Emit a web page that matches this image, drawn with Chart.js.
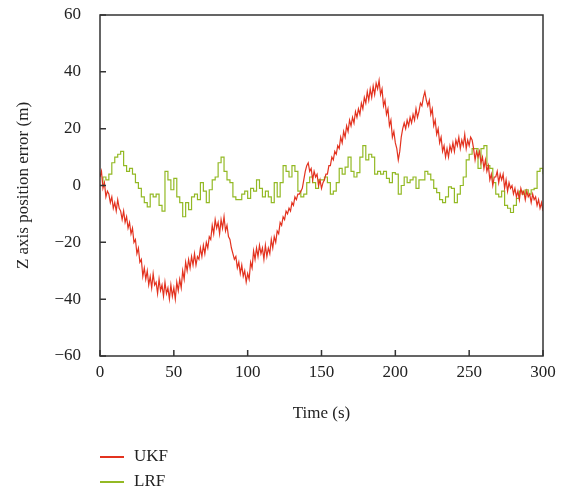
<!DOCTYPE html>
<html>
<head>
<meta charset="utf-8">
<script src="https://cdn.jsdelivr.net/npm/chart.js@4/dist/chart.umd.min.js"></script>
<style>
  body { margin: 0; background: #fff; }
  #wrap { position: relative; width: 569px; height: 492px; }
  .leg { position: absolute; left: 100px; font: 17px "Liberation Serif", serif; color: #222; line-height: 20px; }
  .leg span { display: inline-block; width: 24px; height: 1.5px; vertical-align: middle; margin-right: 10px; }
</style>
</head>
<body>
<div id="wrap">
  <canvas id="zCanvas" width="569" height="492"></canvas>
  <div class="leg" style="top:446px"><span style="background:#e3321f"></span>UKF</div>
  <div class="leg" style="top:471px"><span style="background:#93b924"></span>LRF</div>
</div>
<script>
// Z position error (m), UKF, one sample per second from 0 to 300 s
const ukf = [
  3, 5, -1, 1, -4, -2, -3, -6, -4, -8,
  -6, -9, -5, -8, -9, -12, -9, -13, -11, -15,
  -13, -17, -15, -20, -19, -24, -22, -27, -26, -32,
  -29, -33, -30, -35, -32, -36, -31, -35, -34, -38,
  -33, -37, -35, -39, -34, -38, -36, -40, -35, -39,
  -36, -40, -34, -37, -33, -36, -30, -33, -27, -30,
  -26, -29, -25, -28, -24, -28, -25, -26, -22, -25,
  -21, -24, -20, -22, -18, -19, -14, -17, -12, -15,
  -13, -17, -12, -15, -11, -16, -14, -18, -19, -22,
  -24, -26, -25, -29, -27, -31, -28, -32, -30, -34,
  -31, -33, -27, -29, -23, -26, -22, -25, -21, -24,
  -22, -26, -21, -25, -22, -24, -19, -22, -18, -20,
  -16, -17, -13, -14, -11, -12, -9, -10, -8, -9,
  -6, -7, -4, -5, -3, -3, -2, -1, 2, 5,
  7, 8, 5, 6, 2, 5, 3, 4, 0, 2,
  -1, 1, 2, 4, 4, 7, 7, 10, 9, 12,
  11, 14, 13, 17, 15, 19, 17, 21, 19, 23,
  21, 24, 22, 26, 24, 27, 25, 29, 27, 31,
  29, 33, 30, 34, 31, 35, 32, 36, 34, 37,
  32, 34, 28, 30, 25, 27, 21, 23, 17, 19,
  15, 13, 9, 12, 17, 20, 22, 20, 23, 21,
  24, 22, 25, 23, 27, 24, 26, 29, 28, 31,
  33, 30, 28, 30, 25, 27, 21, 23, 18, 20,
  15, 17, 12, 14, 10, 13, 10, 14, 12, 15,
  12, 16, 14, 17, 13, 16, 14, 18, 13, 16,
  14, 17, 16, 13, 9, 12, 10, 12, 8, 10,
  6, 9, 5, 7, 2, 4, 0, 3, 3, 5,
  1, 4, 2, 4, -1, 2, -2, 1, -1, 0,
  -3, -1, -4, -2, -5, -1, -3, -2, -5, -2,
  -4, -3, -6, -3, -5, -4, -7, -5, -8, -6,
  -9
];

// Z position error (m), LRF, one sample every 2 s from 0 to 300 s
const lrf = [
  0, 3, 2, 4, 8, 10, 11, 12, 7, 5,
  6, 4, 1, -1, -4, -6, -7.5, -3, -4, -3,
  -7, -9, 5, 2, -1.5, 2.5, -4, -6, -11, -6,
  -8.5, -4, -3, -5, 1, -2, -6, -1.5, 2, 3,
  8, 10, 5, 2, 1, -4, -5, -5, -3, -2,
  -4.5, -1, -2, 2, -1, -4, -2, -4, -6, 1,
  -4, 1, 7, 5, 3, 7, 5, -2, -4, -3,
  1, 3, 1, -1, 2, 2, 3, 1, -3, -2,
  1, 6, 4, 6.5, 10, 5, 3, 4.5, 10, 14,
  9, 11, 10, 4, 5, 4, 5, 2.5, 1, 4.5,
  4, -3, 0, 3, 1, 2, 3, -1, 2, 2,
  5, 4, 2, -1, -2.5, -5, -6, -4, -0.5, -1,
  -6, -3, 0, 3, 9, 11, 13, 13, 6, 13,
  14, 7, 6, 1, -3, -4, -2, -7, -8, -9.5,
  -7, -4.5, -2, -3, -1.5, -3, -1.5, -1, 5, 6,
  4
];

const ukfStep = 1;
const lrfStep = 2;

const xTicks = [0, 50, 100, 150, 200, 250, 300];
const yTicks = [-60, -40, -20, 0, 20, 40, 60];

const serif = '"Liberation Serif", serif';
const ink = '#222';

// box around the plot with inward tick marks
const framePlugin = {
  id: 'frame',
  afterDraw(chart) {
    const { ctx, chartArea: a, scales } = chart;
    ctx.save();
    ctx.strokeStyle = '#333';
    ctx.lineWidth = 1.5;
    ctx.strokeRect(a.left, a.top, a.right - a.left, a.bottom - a.top);
    ctx.beginPath();
    xTicks.forEach(v => {
      const x = scales.x.getPixelForValue(v);
      ctx.moveTo(x, a.bottom);
      ctx.lineTo(x, a.bottom - 6);
    });
    yTicks.forEach(v => {
      const y = scales.y.getPixelForValue(v);
      ctx.moveTo(a.left, y);
      ctx.lineTo(a.left + 6, y);
    });
    ctx.stroke();
    ctx.restore();
  }
};

new Chart(document.getElementById('zCanvas'), {
  type: 'line',
  data: {
    datasets: [{
      label: 'UKF',
      data: ukf.map((v, i) => ({ x: i * ukfStep, y: v })),
      borderColor: '#e3321f',
      borderWidth: 1.2,
      pointRadius: 0,
      tension: 0
    }, {
      label: 'LRF',
      data: lrf.map((v, i) => ({ x: i * lrfStep, y: v })),
      borderColor: '#93b924',
      borderWidth: 1.2,
      pointRadius: 0,
      stepped: true
    }]
  },
  options: {
    responsive: false,
    animation: false,
    layout: { padding: { top: 15, right: 26, bottom: 64, left: 9 } },
    plugins: { legend: { display: false }, tooltip: { enabled: false } },
    scales: {
      x: {
        type: 'linear',
        min: 0, max: 300,
        afterBuildTicks: s => { s.ticks = xTicks.map(v => ({ value: v })); },
        afterFit: s => { s.height = 72; s.paddingRight = 0; s.paddingLeft = 0; },
        grid: { display: false },
        border: { display: false },
        ticks: { color: ink, font: { family: serif, size: 17 }, padding: -2, maxRotation: 0 },
        title: { display: true, text: 'Time (s)', color: ink, font: { family: serif, size: 17 } }
      },
      y: {
        min: -60, max: 60,
        afterBuildTicks: s => { s.ticks = yTicks.map(v => ({ value: v })); },
        afterFit: s => { s.width = 91; s.paddingTop = 0; s.paddingBottom = 0; },
        grid: { display: false },
        border: { display: false },
        ticks: {
          color: ink, font: { family: serif, size: 17 }, padding: 11,
          callback: v => String(v).replace('-', '\u2212')
        },
        title: { display: true, text: 'Z axis position error (m)', color: ink, font: { family: serif, size: 17 } }
      }
    }
  },
  plugins: [framePlugin]
});
</script>
</body>
</html>
